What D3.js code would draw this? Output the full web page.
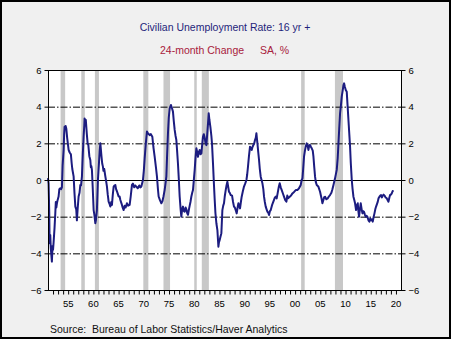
<!DOCTYPE html>
<html>
<head>
<meta charset="utf-8">
<script src="https://cdn.jsdelivr.net/npm/d3@7"></script>
<style>
  html, body { margin: 0; padding: 0; background: #f0f0f0; }
  svg { display: block; font-family: "Liberation Sans", Arial, sans-serif; }
</style>
</head>
<body>
<svg id="chart" width="451" height="339"></svg>
<script>
// ---- Data ----
const title = "Civilian Unemployment Rate: 16 yr +";
const subtitleLeft = "24-month Change";
const subtitleRight = "SA, %";
const source = "Source:  Bureau of Labor Statistics/Haver Analytics";

const yTicks = [6, 4, 2, 0, -2, -4, -6];
const xTickYears = [1955, 1960, 1965, 1970, 1975, 1980, 1985, 1990, 1995, 2000, 2005, 2010, 2015, 2020];
const xTickLabels = ["55", "60", "65", "70", "75", "80", "85", "90", "95", "00", "05", "10", "15", "20"];

const recessionStart = [1953.5, 1957.6, 1960.3, 1969.9, 1973.9, 1980.0, 1981.5, 2001.2, 2007.9];
const recessionEnd   = [1954.4, 1958.3, 1961.1, 1970.9, 1975.2, 1980.5, 1982.9, 2001.9, 2009.5];

const years = [
1951.00,1951.12,1951.25,1951.32,1951.45,1951.55,1951.77,1951.90,1952.00,1952.11,
1952.30,1952.45,1952.55,1952.65,1952.77,1952.90,1953.10,1953.25,1953.44,1953.60,
1953.76,1953.90,1954.10,1954.20,1954.29,1954.40,1954.50,1954.63,1954.80,1955.09,
1955.30,1955.54,1955.70,1955.82,1956.08,1956.25,1956.42,1956.60,1956.73,1956.90,
1957.07,1957.25,1957.41,1957.55,1957.73,1957.90,1958.06,1958.20,1958.26,1958.40,
1958.50,1958.70,1958.86,1959.00,1959.20,1959.39,1959.50,1959.60,1959.71,1959.85,
1960.05,1960.20,1960.38,1960.50,1960.70,1960.90,1961.10,1961.25,1961.38,1961.60,
1961.75,1961.89,1962.00,1962.15,1962.37,1962.55,1962.69,1962.85,1963.02,1963.20,
1963.36,1963.55,1963.68,1963.85,1964.02,1964.20,1964.35,1964.50,1964.65,1964.81,
1965.00,1965.20,1965.35,1965.60,1965.80,1966.00,1966.20,1966.40,1966.65,1966.90,
1967.19,1967.40,1967.65,1967.85,1968.10,1968.30,1968.52,1968.80,1969.10,1969.30,
1969.51,1969.83,1970.00,1970.17,1970.40,1970.62,1970.80,1971.00,1971.16,1971.40,
1971.69,1971.90,1972.15,1972.40,1972.61,1972.80,1972.94,1973.20,1973.48,1973.70,
1973.90,1974.13,1974.30,1974.47,1974.60,1974.79,1974.95,1975.13,1975.38,1975.55,
1975.78,1975.95,1976.12,1976.30,1976.45,1976.60,1976.77,1976.95,1977.11,1977.30,
1977.44,1977.60,1977.77,1977.95,1978.10,1978.30,1978.44,1978.60,1978.76,1978.95,
1979.10,1979.25,1979.43,1979.60,1979.75,1979.95,1980.09,1980.25,1980.42,1980.60,
1980.74,1980.90,1981.08,1981.25,1981.42,1981.60,1981.73,1981.90,1982.07,1982.25,
1982.41,1982.60,1982.73,1982.87,1983.00,1983.20,1983.40,1983.52,1983.72,1983.90,
1984.06,1984.20,1984.39,1984.59,1984.79,1984.90,1985.05,1985.20,1985.38,1985.58,
1985.75,1985.90,1986.05,1986.24,1986.40,1986.57,1986.75,1986.89,1987.05,1987.23,
1987.50,1987.70,1987.88,1988.05,1988.22,1988.42,1988.60,1988.76,1988.90,1989.08,
1989.25,1989.41,1989.65,1989.87,1990.10,1990.35,1990.50,1990.66,1990.85,1991.06,
1991.25,1991.40,1991.55,1991.73,1991.90,1992.05,1992.20,1992.33,1992.45,1992.53,
1992.70,1992.85,1993.00,1993.18,1993.35,1993.52,1993.70,1993.84,1994.00,1994.17,
1994.35,1994.51,1994.70,1994.83,1995.00,1995.17,1995.40,1995.56,1995.80,1996.00,
1996.16,1996.35,1996.55,1996.75,1996.95,1997.15,1997.35,1997.60,1997.80,1998.05,
1998.28,1998.45,1998.60,1998.94,1999.20,1999.47,1999.80,2000.13,2000.45,2000.78,
2001.12,2001.30,2001.46,2001.60,2001.77,2001.95,2002.11,2002.31,2002.50,2002.65,
2002.80,2002.96,2003.15,2003.30,2003.50,2003.64,2003.80,2003.96,2004.10,2004.29,
2004.60,2004.95,2005.20,2005.42,2005.60,2005.75,2005.94,2006.20,2006.48,2006.70,
2006.93,2007.20,2007.40,2007.61,2007.92,2008.26,2008.45,2008.60,2008.75,2008.92,
2009.10,2009.25,2009.45,2009.59,2009.72,2009.85,2010.05,2010.24,2010.40,2010.58,
2010.75,2010.90,2011.05,2011.24,2011.40,2011.57,2011.75,2011.89,2012.09,2012.25,
2012.43,2012.55,2012.68,2012.85,2013.02,2013.20,2013.36,2013.50,2013.67,2013.85,
2014.00,2014.15,2014.34,2014.55,2014.74,2014.90,2015.07,2015.25,2015.40,2015.55,
2015.74,2015.90,2016.06,2016.25,2016.40,2016.55,2016.73,2016.90,2017.05,2017.20,
2017.39,2017.55,2017.73,2017.95,2018.18,2018.35,2018.52,2018.70,2018.84,2019.00,
2019.17,2019.35,2019.51
];
const values = [
0.1,-0.2,-1.8,-3.45,-3.0,-3.7,-4.45,-3.6,-3.8,-3.4,
-2.6,-1.8,-1.2,-1.5,-1.27,-1.1,-0.9,-0.5,-0.45,-0.5,
-0.4,0.8,1.64,2.5,2.9,2.8,2.95,2.8,2.3,1.64,
1.5,1.4,0.9,0.6,0.2,-0.7,-1.45,-1.6,-2.2,-1.5,
-0.9,-0.7,-0.27,-0.3,0.2,1.4,2.36,3.0,3.36,3.2,
3.27,2.5,2.0,1.9,1.3,1.09,0.7,0.75,0.55,-0.3,
-1.64,-1.9,-2.36,-2.2,-1.64,0.0,0.9,1.6,2.0,1.3,
0.9,0.73,0.5,0.6,0.2,-0.1,-0.36,-0.8,-1.18,-1.3,
-1.45,-1.2,-1.36,-0.8,-0.36,-0.3,-0.27,-0.5,-0.6,-0.73,
-0.9,-0.9,-1.09,-1.3,-1.5,-1.64,-1.4,-1.5,-1.27,-1.4,
-1.36,-0.9,-0.27,-0.2,-0.4,-0.3,-0.36,-0.45,-0.3,-0.4,
-0.36,0.0,0.5,1.18,2.0,2.64,2.55,2.5,2.45,2.5,
2.36,1.8,1.27,0.7,0.18,-0.5,-0.9,-1.1,-1.27,-1.15,
-0.9,-0.55,-0.2,0.2,1.2,2.55,3.4,3.9,4.09,3.95,
3.73,3.2,2.73,2.4,2.18,1.6,0.9,0.0,-0.9,-1.6,
-2.0,-1.6,-1.45,-1.7,-1.73,-1.5,-1.6,-1.8,-1.9,-1.6,
-1.4,-1.2,-0.9,-0.7,-0.55,0.1,0.55,1.2,1.73,1.5,
1.27,1.5,1.64,1.4,1.45,2.0,2.36,2.5,2.3,2.0,
1.9,2.6,3.09,3.64,3.3,2.9,2.4,2.0,0.9,-0.2,
-1.09,-1.8,-2.36,-2.73,-3.64,-3.4,-3.27,-3.1,-2.9,-1.64,
-1.4,-1.27,-0.9,-0.55,-0.3,-0.09,-0.4,-0.64,-0.7,-0.82,
-0.85,-1.2,-1.45,-1.5,-1.64,-1.82,-1.5,-1.27,-1.4,-1.55,
-1.2,-0.91,-0.6,-0.36,-0.2,0.0,0.3,0.73,1.3,1.82,
1.7,1.64,1.8,1.91,2.0,2.18,2.3,2.55,2.2,2.0,
1.5,1.09,0.6,0.18,0.0,-0.18,-0.5,-0.91,-1.2,-1.45,
-1.6,-1.73,-1.8,-1.91,-1.7,-1.64,-1.4,-1.27,-1.1,-0.95,
-0.91,-1.0,-0.7,-0.4,-0.18,-0.4,-0.55,-0.75,-0.91,-1.1,
-1.18,-0.85,-1.0,-0.91,-0.85,-0.73,-0.65,-0.55,-0.55,-0.45,
-0.27,0.0,0.09,0.6,1.27,1.6,1.82,2.0,1.85,1.64,
1.9,1.91,1.8,1.73,1.6,1.27,0.7,0.18,-0.1,-0.27,
-0.35,-0.64,-0.95,-1.27,-1.1,-0.95,-0.91,-1.05,-1.0,-0.9,
-0.82,-0.7,-0.5,-0.27,0.09,0.55,1.2,2.0,2.8,3.64,
4.1,4.55,4.9,5.18,5.27,5.1,4.91,4.82,4.1,3.27,
2.5,1.82,0.9,0.0,-0.5,-0.91,-1.1,-1.27,-1.64,-1.4,
-1.27,-1.7,-2.0,-1.6,-1.27,-1.6,-1.82,-1.7,-1.73,-1.9,
-2.0,-1.95,-2.0,-2.2,-2.27,-2.1,-2.2,-2.15,-2.27,-2.05,
-1.82,-1.6,-1.45,-1.3,-1.18,-1.0,-0.91,-0.85,-0.82,-0.95,
-0.85,-0.8,-0.85,-0.95,-1.0,-1.1,-1.18,-0.95,-0.82,-0.8,
-0.73,-0.6,-0.64
];

// ---- Layout ----
const W = 451, H = 339;
const plot = { left: 48, right: 402, top: 70, bottom: 290 };

const svg = d3.select("#chart");

// outer background and frame
svg.append("rect").attr("x", 1).attr("y", 1).attr("width", W - 2).attr("height", H - 2)
  .attr("fill", "#f0f0f0").attr("stroke", "#000").attr("stroke-width", 2);

const x = d3.scaleLinear().domain([1951, 2021.2]).range([plot.left, plot.right]);
const y = d3.scaleLinear().domain([-6, 6]).range([plot.bottom, plot.top]);

// plot background
svg.append("rect").attr("x", plot.left).attr("y", plot.top)
  .attr("width", plot.right - plot.left).attr("height", plot.bottom - plot.top)
  .attr("fill", "#fff");

// recession bars
svg.append("g").selectAll("rect").data(recessionStart).join("rect")
  .attr("x", (d) => x(d))
  .attr("width", (d, i) => x(recessionEnd[i]) - x(d))
  .attr("y", plot.top).attr("height", plot.bottom - plot.top)
  .attr("fill", "#c8c8c8");

// gridlines
svg.append("g").selectAll("line").data(yTicks.filter(v => v !== 6 && v !== -6)).join("line")
  .attr("x1", plot.left).attr("x2", plot.right)
  .attr("y1", d => y(d) + 0.5).attr("y2", d => y(d) + 0.5)
  .attr("stroke", "#000").attr("stroke-width", 1)
  .attr("stroke-dasharray", d => d === 0 ? null : "7,2,1.5,2");

// data line
const line = d3.line().x((d, i) => x(years[i])).y(d => y(d)).curve(d3.curveLinear);
svg.append("path").datum(values)
  .attr("d", line)
  .attr("fill", "none").attr("stroke", "#1c1c80").attr("stroke-width", 2)
  .attr("stroke-linejoin", "round");

// plot border
svg.append("rect").attr("x", plot.left + 0.5).attr("y", plot.top + 0.5)
  .attr("width", plot.right - plot.left - 1).attr("height", plot.bottom - plot.top)
  .attr("fill", "none").attr("stroke", "#000").attr("stroke-width", 1);

// y axes
const leftAxis = d3.axisLeft(y).tickValues(yTicks).tickSize(4).tickPadding(3).tickFormat(d3.format("d"));
const gl = svg.append("g").attr("transform", `translate(${plot.left + 0.5},0)`).call(leftAxis);
const rightAxis = d3.axisRight(y).tickValues(yTicks).tickSize(4).tickPadding(3).tickFormat(d3.format("d"));
const gr = svg.append("g").attr("transform", `translate(${plot.right - 0.5},0)`).call(rightAxis);

// x axis with yearly minor ticks
const allYears = d3.range(1952, 2021);
const bottomAxis = d3.axisBottom(x).tickValues(allYears).tickSize(4).tickFormat("");
const gb = svg.append("g").attr("transform", `translate(0,${plot.bottom + 0.5})`).call(bottomAxis);
svg.append("g").selectAll("text").data(xTickYears).join("text")
  .attr("x", d => x(d)).attr("y", 307)
  .attr("text-anchor", "middle").attr("font-size", 9.5).attr("fill", "#000")
  .text((d, i) => xTickLabels[i]);

[gl, gr, gb].forEach(g => {
  g.select(".domain").remove();
  g.selectAll(".tick line").attr("stroke", "#000");
  g.selectAll(".tick text").attr("font-size", 9.5).attr("fill", "#000")
    .attr("font-family", "Liberation Sans, Arial, sans-serif");
});

// titles
svg.append("text").attr("x", 225).attr("y", 31).attr("text-anchor", "middle")
  .attr("font-size", 10.5).attr("fill", "#1f1f7a").text(title);
svg.append("text").attr("x", 160).attr("y", 54)
  .attr("font-size", 10.5).attr("fill", "#a8203c").text(subtitleLeft);
svg.append("text").attr("x", 260).attr("y", 54)
  .attr("font-size", 10.5).attr("fill", "#a8203c").text(subtitleRight);

// source
svg.append("text").attr("x", 50).attr("y", 333)
  .attr("font-size", 10.5).attr("fill", "#111").attr("xml:space", "preserve")
  .style("white-space", "pre").text(source);
</script>
</body>
</html>
